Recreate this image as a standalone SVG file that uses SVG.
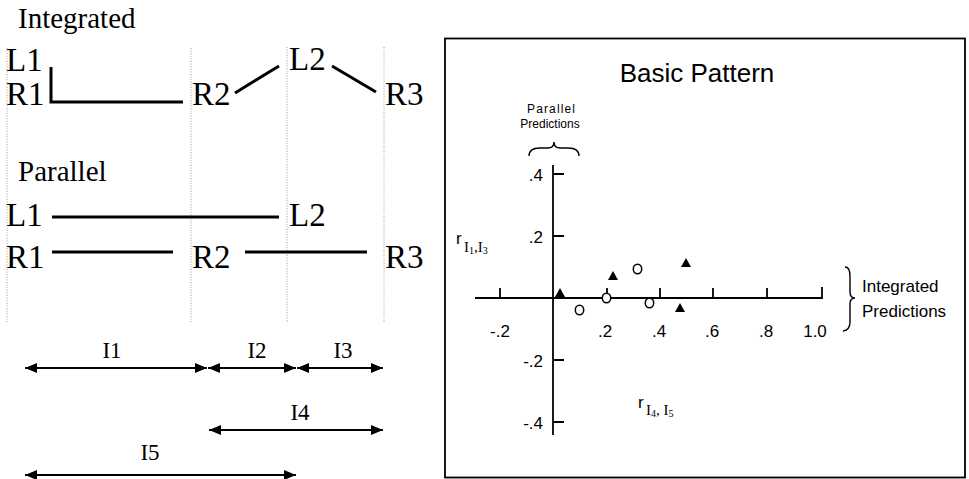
<svg xmlns="http://www.w3.org/2000/svg" width="969" height="479" viewBox="0 0 969 479">
<defs>
<style>
.serif{font-family:"Liberation Serif","Times New Roman",serif;fill:#000}
.big{font-size:33px}
.title{font-size:29px}
.ilab{font-size:23px;text-anchor:middle}
.sans{font-family:"Liberation Sans",Arial,sans-serif;fill:#000}
.tick{font-size:17px}
.dot{stroke:#9a9a9a;stroke-width:1;stroke-dasharray:1 1.6;fill:none}
.thick{stroke:#000;stroke-width:3;fill:none}
.arr{stroke:#000;stroke-width:2;fill:none;marker-start:url(#ah);marker-end:url(#ah)}
.ax{stroke:#000;stroke-width:1.8;fill:none}
.br{stroke:#000;stroke-width:1.4;fill:none}
</style>
<marker id="ah" viewBox="0 0 12 10" refX="12" refY="5" markerWidth="12" markerHeight="10" markerUnits="userSpaceOnUse" orient="auto-start-reverse">
<path d="M0,0 L12,5 L0,10 z" fill="#000"/>
</marker>
</defs>
<rect width="969" height="479" fill="#fff"/>

<g id="guides">
<line class="dot" x1="7" y1="48" x2="7" y2="323"/>
<line class="dot" x1="191" y1="48" x2="191" y2="323"/>
<line class="dot" x1="287" y1="47" x2="287" y2="323"/>
<line class="dot" x1="384" y1="47" x2="384" y2="323"/>
</g>

<g id="titles">
<text class="serif title" x="18" y="28">Integrated</text>
<text class="serif title" x="18" y="181">Parallel</text>
</g>

<g id="int-L1"><text class="serif big" font-family="Liberation Serif, serif" x="6" y="71">L1</text></g>
<g id="int-R1"><text class="serif big" font-family="Liberation Serif, serif" x="6" y="105">R1</text></g>
<g id="int-R2"><text class="serif big" font-family="Liberation Serif, serif" x="192" y="105">R2</text></g>
<g id="int-L2"><text class="serif big" font-family="Liberation Serif, serif" x="289" y="70">L2</text></g>
<g id="int-R3"><text class="serif big" font-family="Liberation Serif, serif" x="385" y="105">R3</text></g>

<g id="par-L1"><text class="serif big" font-family="Liberation Serif, serif" x="6" y="226">L1</text></g>
<g id="par-L2"><text class="serif big" font-family="Liberation Serif, serif" x="289" y="226">L2</text></g>
<g id="par-R1"><text class="serif big" font-family="Liberation Serif, serif" x="6" y="268">R1</text></g>
<g id="par-R2"><text class="serif big" font-family="Liberation Serif, serif" x="192" y="268">R2</text></g>
<g id="par-R3"><text class="serif big" font-family="Liberation Serif, serif" x="385" y="268">R3</text></g>

<g id="connectors">
<polyline class="thick" points="51,67 51,102 183,102"/>
<line class="thick" x1="235" y1="93" x2="279" y2="66"/>
<line class="thick" x1="332" y1="66" x2="376" y2="92"/>
<line class="thick" x1="52" y1="217" x2="279" y2="217"/>
<line class="thick" x1="52" y1="252" x2="173" y2="252"/>
<line class="thick" x1="245" y1="252" x2="367" y2="252"/>
<line class="arr" x1="25" y1="368" x2="207" y2="368"/>
<line class="arr" x1="208" y1="368" x2="296" y2="368"/>
<line class="arr" x1="297" y1="368" x2="383" y2="368"/>
<line class="arr" x1="209" y1="430" x2="383" y2="430"/>
<line class="arr" x1="25" y1="475" x2="296" y2="475"/>
</g>

<g id="interval-labels">
<text class="serif ilab" x="112" y="358">I1</text>
<text class="serif ilab" x="257" y="358">I2</text>
<text class="serif ilab" x="343" y="358">I3</text>
<text class="serif ilab" x="300" y="420">I4</text>
<text class="serif ilab" x="150" y="460">I5</text>
</g>

<g id="plot">
<rect x="445" y="38.5" width="520" height="439" fill="none" stroke="#000" stroke-width="1.8"/>
<text class="sans" x="697" y="82" font-size="26" text-anchor="middle">Basic Pattern</text>
<text class="sans" x="551" y="113" font-size="12" text-anchor="middle" textLength="48" lengthAdjust="spacing">Parallel</text>
<text class="sans" x="550" y="128" font-size="12" text-anchor="middle">Predictions</text>
<path class="br" d="M529,156 Q529,148 540,148 L548,148 Q554,148 554,142 Q554,148 560,148 L568,148 Q579,148 579,156"/>

<path class="ax" d="M475,298 L822,298 L822,287"/>
<path class="ax" d="M553,165 L553,435"/>
<path class="ax" d="M500,298 V288 M607,298 V288 M660,298 V288 M713,298 V288 M767,298 V288"/>
<path class="ax" d="M553,174 H564 M553,236 H564 M553,360 H564 M553,422 H564"/>

<g class="sans tick" text-anchor="middle">
<text x="500" y="337">-.2</text>
<text x="605" y="337">.2</text>
<text x="659" y="337">.4</text>
<text x="712" y="337">.6</text>
<text x="766" y="337">.8</text>
<text x="815" y="337">1.0</text>
</g>
<g class="sans tick" text-anchor="end">
<text x="543" y="181">.4</text>
<text x="543" y="243">.2</text>
<text x="543" y="367">-.2</text>
<text x="543" y="429">-.4</text>
</g>

<text class="sans" x="456" y="244" font-size="17">r</text>
<text class="serif" x="464" y="252" font-size="15">I<tspan font-size="10" dy="2">1</tspan><tspan dy="-2">,I</tspan><tspan font-size="10" dy="2">3</tspan></text>
<text class="sans" x="638" y="408" font-size="17">r</text>
<text class="serif" x="646" y="415" font-size="15">I<tspan font-size="10" dy="2">4</tspan><tspan dy="-2">, I</tspan><tspan font-size="10" dy="2">5</tspan></text>

<path class="br" d="M845,267 Q850,267 850,276 L850,292 Q850,298 855,298 Q850,298 850,304 L850,322 Q850,330 843,331"/>
<text class="sans" x="862" y="292" font-size="17">Integrated</text>
<text class="sans" x="862" y="317" font-size="17">Predictions</text>

<g fill="#000">
<polygon points="560,288 565,297 555,297"/>
<polygon points="613,271 618,280 608,280"/>
<polygon points="686,258 691,267 681,267"/>
<polygon points="680,303 685,312 675,312"/>
</g>
<g fill="#fff" stroke="#000" stroke-width="1.5">
<ellipse cx="579.5" cy="310" rx="4.2" ry="4.8"/>
<ellipse cx="637.5" cy="269" rx="4.2" ry="4.8"/>
<ellipse cx="606.5" cy="298" rx="4.2" ry="4.8"/>
<ellipse cx="649.5" cy="303" rx="4.2" ry="4.8"/>
</g>
</g>
</svg>
